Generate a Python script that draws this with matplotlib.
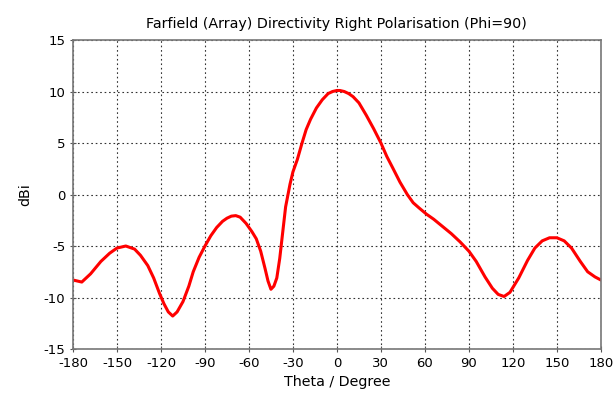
import matplotlib.pyplot as plt

# theta (deg) and directivity (dBi)
theta = [-180, -174, -168, -161, -155, -150, -144, -138, -134, -129, -125, -121, -118,
         -115, -112, -109, -105, -101, -98, -94, -90, -86, -82, -78, -75, -72, -69,
         -66, -62, -58, -55, -52, -49, -47, -45, -43, -41, -39, -37, -35, -32, -30,
         -27, -24, -21, -18, -14, -10, -6, -3, 0, 2, 5, 8, 11, 15, 20, 25, 30, 34,
         38, 43, 48, 52, 56, 61, 66, 72, 78, 84, 90, 95, 101, 106, 110, 114, 118,
         124, 130, 135, 140, 145, 150, 155, 160, 166, 171, 176, 180]
dbi = [-8.3, -8.5, -7.7, -6.5, -5.7, -5.2, -5.0, -5.3, -5.9, -6.9, -8.1, -9.6, -10.6,
       -11.4, -11.8, -11.4, -10.4, -8.9, -7.5, -6.1, -5.0, -4.0, -3.2, -2.6, -2.3,
       -2.1, -2.05, -2.2, -2.8, -3.6, -4.3, -5.5, -7.2, -8.4, -9.2, -8.9, -8.1,
       -6.2, -3.7, -1.2, 1.0, 2.2, 3.4, 4.9, 6.3, 7.3, 8.4, 9.2, 9.8, 10.0, 10.1,
       10.1, 10.0, 9.8, 9.5, 8.9, 7.7, 6.4, 5.0, 3.7, 2.6, 1.2, 0.0, -0.8, -1.3,
       -1.9, -2.4, -3.1, -3.8, -4.6, -5.5, -6.5, -8.0, -9.1, -9.7, -9.9, -9.5,
       -8.1, -6.4, -5.2, -4.5, -4.2, -4.2, -4.5, -5.2, -6.5, -7.5, -8.0, -8.3]

xticks = list(range(-180, 181, 30))
yticks = list(range(-15, 16, 5))

plt.rcParams['font.family'] = 'DejaVu Sans'
plt.rcParams['axes.unicode_minus'] = False

fig = plt.figure(figsize=(6.15, 3.99), dpi=100)
ax = fig.add_axes([0.1187, 0.1253, 0.8583, 0.7744])

ax.plot(theta, dbi, color='#ff0000', linewidth=2.2, solid_capstyle='round')

ax.set_xlim(-180, 180)
ax.set_ylim(-15, 15)
ax.set_xticks(xticks)
ax.set_yticks(yticks)
ax.tick_params(labelsize=9.5, length=4, color='#555555', direction='inout')
ax.grid(True, linestyle=(0, (1.5, 2.5)), color='#333333', linewidth=0.8)

for s in ax.spines.values():
    s.set_color('#777777')
    s.set_linewidth(1.2)

ax.set_title('Farfield (Array) Directivity Right Polarisation (Phi=90)', fontsize=10.3, pad=9)
ax.set_xlabel('Theta / Degree', fontsize=10.3, labelpad=4)
ax.set_ylabel('dBi', fontsize=10.3, labelpad=8)

fig.savefig('out.png', dpi=100, facecolor='white')
